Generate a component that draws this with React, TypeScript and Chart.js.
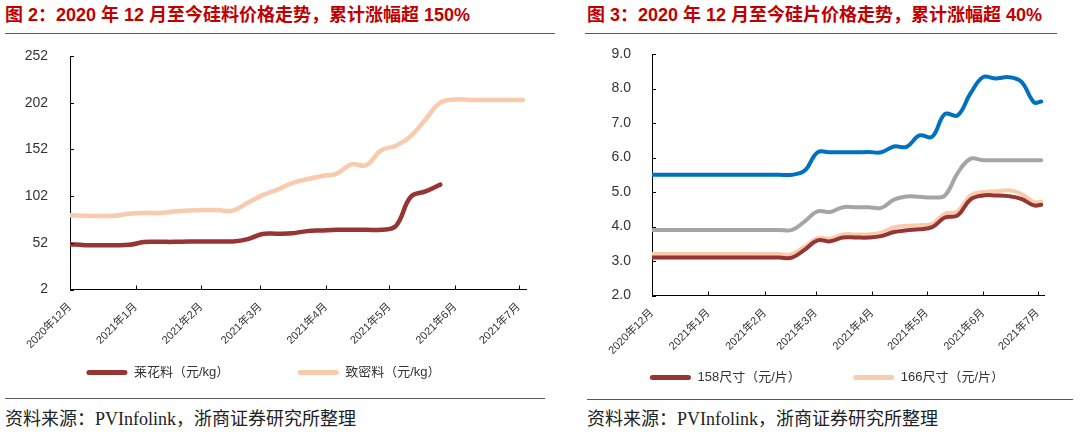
import React, { useEffect, useRef } from "react";
import { Chart, registerables } from "chart.js";

Chart.register(...registerables);

// ---------- shared x axis (days since 2020-12-01) ----------
const monthTickDays = [0, 31, 62, 90, 121, 151, 182, 212];
const monthTickLabels = [
  "2020年12月",
  "2021年1月",
  "2021年2月",
  "2021年3月",
  "2021年4月",
  "2021年5月",
  "2021年6月",
  "2021年7月",
];
const weekDays = [
  0, 7, 14, 21, 28, 35, 42, 49, 56, 63, 70, 77, 84, 91, 98, 105, 112, 119, 126,
  133, 140, 147, 154, 161, 168, 175, 182, 189, 196, 203, 210, 214,
];

// ---------- chart 2: silicon material ----------
const siliconYTicks = [2, 52, 102, 152, 202, 252];
const granularName = "莱花料（元/kg）";
const granularPrice = [
  50.5, 49.5, 49.3, 49.3, 49.8, 52.8, 53, 53, 53.3, 53.5, 53.5, 53.5, 56, 61.5,
  61.7, 62.3, 64.5, 65.3, 66, 66, 66, 66, 70, 101, 107, 114.3, null, null, null,
  null, null, null,
];
const denseName = "致密料（元/kg）";
const densePrice = [
  81.5, 81, 80.8, 81, 83, 84, 84, 85.5, 86.5, 87, 87, 86.5, 95, 103, 109, 116,
  120, 123.5, 126, 136, 135, 151, 156, 166, 184, 202, 205.5, 205, 205, 205, 205,
  205,
];

// ---------- chart 3: wafers ----------
const waferYTicks = [2, 3, 4, 5, 6, 7, 8, 9];
const wafer158Name = "158尺寸（元/片）";
const wafer158 = [
  3.1, 3.1, 3.1, 3.1, 3.1, 3.1, 3.1, 3.1, 3.1, 3.1, 3.1, 3.1, 3.33, 3.6, 3.57,
  3.68, 3.68, 3.68, 3.72, 3.84, 3.89, 3.92, 3.98, 4.26, 4.32, 4.78, 4.9, 4.9,
  4.88, 4.8, 4.61, 4.63,
];
const wafer166Name = "166尺寸（元/片）";
const wafer166 = [
  3.2, 3.2, 3.2, 3.2, 3.2, 3.2, 3.2, 3.2, 3.2, 3.2, 3.2, 3.2, 3.42, 3.66, 3.65,
  3.77, 3.77, 3.77, 3.82, 3.97, 4.02, 4.04, 4.08, 4.37, 4.44, 4.9, 5.0, 5.02,
  5.05, 4.95, 4.71, 4.72,
];
const wafer210Name = "210尺寸（元/片）";
const wafer210 = [
  5.5, 5.5, 5.5, 5.5, 5.5, 5.5, 5.5, 5.5, 5.5, 5.5, 5.5, 5.5, 5.62, 6.15, 6.15,
  6.15, 6.15, 6.16, 6.15, 6.32, 6.31, 6.64, 6.6, 7.26, 7.22, 7.85, 8.33, 8.29,
  8.33, 8.2, 7.6, 7.62,
];
const wafer182Name = "182尺寸（元/片）";
const wafer182 = [
  3.9, 3.9, 3.9, 3.9, 3.9, 3.9, 3.9, 3.9, 3.9, 3.9, 3.9, 3.9, 4.15, 4.44, 4.42,
  4.56, 4.56, 4.56, 4.54, 4.78, 4.87, 4.86, 4.84, 4.9, 5.55, 5.96, 5.92, 5.92,
  5.92, 5.92, 5.92, 5.92,
];

const DARK_RED = "#963634";
const PEACH = "#F8CBAD";
const BLUE = "#0070C0";
const GRAY = "#A5A5A5";

const SANS = '"Liberation Sans", "Noto Sans CJK SC", sans-serif';

const innerTicks = {
  id: "innerTicks",
  afterDraw(chart: any) {
    const { ctx, chartArea } = chart;
    const xs = chart.scales.x;
    const ys = chart.scales.y;
    ctx.save();
    ctx.strokeStyle = "#000";
    ctx.lineWidth = 1;
    ctx.beginPath();
    xs.ticks.forEach((t: any) => {
      const px = Math.round(xs.getPixelForValue(t.value)) + 0.5;
      ctx.moveTo(px, chartArea.bottom);
      ctx.lineTo(px, chartArea.bottom - 4);
    });
    ys.ticks.forEach((t: any) => {
      const py = Math.round(ys.getPixelForValue(t.value)) + 0.5;
      ctx.moveTo(chartArea.left, py);
      ctx.lineTo(chartArea.left + 4, py);
    });
    ctx.stroke();
    ctx.restore();
  },
};

function series(label: string, values: (number | null)[], color: string, width: number) {
  return {
    label,
    data: weekDays.map((d, i) => ({ x: d, y: values[i] })),
    borderColor: color,
    backgroundColor: color,
    borderWidth: width,
    pointRadius: 0,
    pointHoverRadius: 0,
    tension: 0.4,
    borderCapStyle: "round",
    borderJoinStyle: "round",
    fill: false,
  };
}

function makeConfig(p: {
  datasets: any[];
  yTicks: number[];
  yMax: number;
  yMin: number;
  xMax: number;
  yFormat: (v: number) => string;
  padding: any;
  yWidth: number;
  yTopPad: number;
  xHeight: number;
  xRightPad: number;
  yPad: number;
  xPad: number;
  legendPad: number;
  legendCount: number;
}) {
  // an empty legend title with negative padding cancels the row's top padding,
  // so labels.padding only spaces the items horizontally
  const titleLine = 10;
  const titleCancel = -(p.legendPad + titleLine) / 2;
  return {
    type: "line",
    data: { datasets: p.datasets },
    plugins: [innerTicks],
    options: {
      animation: false,
      responsive: true,
      maintainAspectRatio: false,
      events: [],
      layout: { padding: p.padding },
      plugins: {
        tooltip: { enabled: false },
        title: { display: false },
        legend: {
          display: true,
          position: "bottom",
          title: {
            display: true,
            text: "",
            font: { size: titleLine, lineHeight: 1 },
            padding: { top: titleCancel, bottom: titleCancel },
          },
          labels: {
            boxWidth: 41,
            boxHeight: 5,
            useBorderRadius: true,
            borderRadius: 2.5,
            padding: p.legendPad,
            color: "#333",
            font: { family: SANS, size: 13 },
            generateLabels: (chart: any) =>
              Chart.defaults.plugins.legend.labels
                .generateLabels(chart)
                .filter((it: any) => it.datasetIndex < p.legendCount)
                .map((it: any) => ({ ...it, lineWidth: 0, fillStyle: it.strokeStyle })),
          },
        },
      },
      scales: {
        x: {
          type: "linear",
          min: 0,
          max: p.xMax,
          afterBuildTicks: (scale: any) => {
            scale.ticks = monthTickDays.map((v) => ({ value: v }));
          },
          afterFit: (scale: any) => {
            scale.height = p.xHeight;
            scale.paddingRight = p.xRightPad;
          },
          ticks: {
            autoSkip: false,
            minRotation: 45,
            maxRotation: 45,
            padding: p.xPad,
            color: "#333",
            font: { family: SANS, size: 11 },
            callback: (_v: any, i: number) => monthTickLabels[i],
          },
          grid: { display: true, drawOnChartArea: false, drawTicks: false },
          border: { display: true, color: "#000", width: 1 },
        },
        y: {
          type: "linear",
          min: p.yMin,
          max: p.yMax,
          afterBuildTicks: (scale: any) => {
            scale.ticks = p.yTicks.map((v) => ({ value: v }));
          },
          afterFit: (scale: any) => {
            scale.width = p.yWidth;
            scale.paddingTop = p.yTopPad;
            scale.paddingBottom = 0;
          },
          ticks: {
            padding: p.yPad,
            color: "#333",
            font: { family: SANS, size: 14 },
            callback: (v: any) => p.yFormat(Number(v)),
          },
          grid: { display: true, drawOnChartArea: false, drawTicks: false },
          border: { display: true, color: "#000", width: 1 },
        },
      },
    },
  };
}

function ChartBox({ build, style }: { build: () => any; style: React.CSSProperties }) {
  const ref = useRef<HTMLCanvasElement>(null);
  useEffect(() => {
    const chart = new Chart(ref.current as HTMLCanvasElement, build());
    return () => chart.destroy();
  }, []);
  return (
    <div style={{ position: "absolute", ...style }}>
      <canvas ref={ref} />
    </div>
  );
}

const titleStyle: React.CSSProperties = {
  position: "absolute",
  top: 5,
  fontFamily: SANS,
  fontWeight: "bold",
  fontSize: 18,
  lineHeight: "20px",
  color: "#C00000",
  whiteSpace: "nowrap",
};

const sourceStyle: React.CSSProperties = {
  position: "absolute",
  top: 408,
  fontFamily: '"Liberation Serif", "Noto Sans CJK SC", serif',
  fontSize: 18,
  lineHeight: "22px",
  color: "#222",
  whiteSpace: "nowrap",
};

const rule = (left: number, top: number, width: number): React.CSSProperties => ({
  position: "absolute",
  left,
  top,
  width,
  height: 0,
  borderTop: "1px solid #5a5a5a",
});

export default function App() {
  const buildLeft = () =>
    makeConfig({
      datasets: [
        series(granularName, granularPrice, DARK_RED, 4.5),
        series(denseName, densePrice, PEACH, 4.5),
      ],
      yTicks: siliconYTicks,
      yMin: 2,
      yMax: 252,
      xMax: 216,
      yFormat: (v) => String(v),
      padding: { left: 0, right: 0, top: 0, bottom: 0 },
      yWidth: 70,
      yTopPad: 16,
      xHeight: 76.5,
      xRightPad: 0,
      yPad: 22,
      xPad: 11,
      legendPad: 68.5,
      legendCount: 2,
    });

  const buildRight = () =>
    makeConfig({
      datasets: [
        series(wafer158Name, wafer158, DARK_RED, 4),
        series(wafer166Name, wafer166, PEACH, 4),
        series(wafer210Name, wafer210, BLUE, 4),
        series(wafer182Name, wafer182, GRAY, 4),
      ],
      yTicks: waferYTicks,
      yMin: 2,
      yMax: 9,
      xMax: 215.5,
      yFormat: (v) => v.toFixed(1),
      padding: { left: 14, right: 0, top: 0, bottom: 0 },
      yWidth: 78,
      yTopPad: 14,
      xHeight: 75.5,
      xRightPad: 36,
      yPad: 21,
      xPad: 11,
      legendPad: 52.5,
      legendCount: 2,
    });

  return (
    <div
      style={{
        position: "absolute",
        left: 0,
        top: 0,
        width: 1080,
        height: 434,
        background: "#fff",
        overflow: "hidden",
      }}
    >
      <div style={{ ...titleStyle, left: 5 }}>
        图 2：2020 年 12 月至今硅料价格走势，累计涨幅超 150%
      </div>
      <div style={{ ...titleStyle, left: 587 }}>
        图 3：2020 年 12 月至今硅片价格走势，累计涨幅超 40%
      </div>
      <div style={rule(5, 33, 550)} />
      <div style={rule(585, 33, 472)} />

      <ChartBox build={buildLeft} style={{ left: 0, top: 40, width: 527, height: 349 }} />
      <ChartBox build={buildRight} style={{ left: 560, top: 40, width: 520, height: 354 }} />

      <div style={rule(5, 398, 540)} />
      <div style={rule(587, 399, 486)} />
      <div style={{ ...sourceStyle, left: 5 }}>资料来源：PVInfolink，浙商证券研究所整理</div>
      <div style={{ ...sourceStyle, left: 587 }}>资料来源：PVInfolink，浙商证券研究所整理</div>
    </div>
  );
}
